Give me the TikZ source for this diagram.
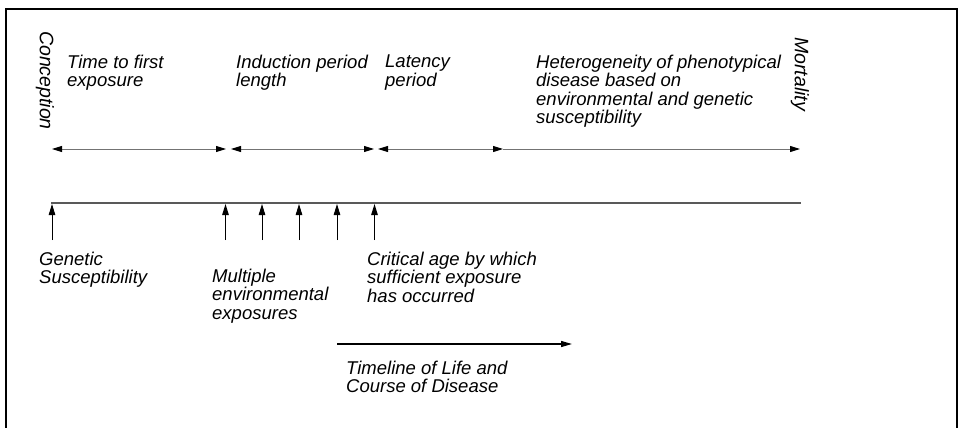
\documentclass[tikz,border=0pt]{standalone}
\usepackage{fontspec}
\setmainfont{Liberation Sans}
\usetikzlibrary{arrows.meta}
\begin{document}
\begin{tikzpicture}[x=1pt,y=-1pt,
  lbl/.style={anchor=north west,inner sep=0pt,align=left,font=\fontsize{18.5}{18.2}\selectfont\itshape},
  vlbl/.style={anchor=west,inner sep=0pt,rotate=-90,font=\fontsize{19.5}{18}\selectfont\itshape},
  dimline/.style={draw=black!55,line width=0.9pt},
  dimarr/.style={dimline,{Triangle[length=10pt,width=6pt,color=black]}-{Triangle[length=10pt,width=6pt,color=black]}},
  dimright/.style={dimline,-{Triangle[length=10pt,width=6pt,color=black]}},
  uparr/.style={draw=black,line width=1pt,-{Triangle[length=11pt,width=6.5pt]}},
  tline/.style={draw=black!65,line width=2pt},
  frame/.style={draw=black,line width=2.2pt}]
\useasboundingbox (0,0) rectangle (962,428);
\draw[frame] (6,430) -- (6,9) -- (957,9) -- (957,430);

% vertical labels
\node[vlbl] (conc) at (45,31) {Conception};
\node[vlbl] (mort) at (800,37) {Mortality};

% top labels
\node[lbl] (t1) at (67,55) {Time to first\\exposure};
\node[lbl] (t2) at (236,55) {Induction period\\length};
\node[lbl] (t3) at (385,55) {Latency\\period};
\node[lbl] (t4) at (536,55) {Heterogeneity of phenotypical\\disease based on\\environmental and genetic\\susceptibility};

% dimension arrows
\coordinate (d0) at (52,149);
\coordinate (d1a) at (226,149);
\coordinate (d1b) at (231,149);
\coordinate (d2a) at (374,149);
\coordinate (d2b) at (378,149);
\coordinate (d3) at (503,149);
\coordinate (d4) at (800,149);
\draw[dimarr] (d0) -- (d1a);
\draw[dimarr] (d1b) -- (d2a);
\draw[dimarr] (d2b) -- (d3);
\draw[dimright] (d3) -- (d4);

% timeline
\coordinate (tl0) at (51,203);
\coordinate (tl1) at (801,203);
\draw[tline] (tl0) -- (tl1);

% up arrows
\foreach \n/\x in {a/52,b/225.5,c/262,d/299,e/337,f/374.5}{
  \coordinate (u\n0) at (\x,240);
  \coordinate (u\n1) at (\x,204);
  \draw[uparr] (u\n0) -- (u\n1);
}

% bottom labels
\node[lbl] (g) at (39,252) {Genetic\\Susceptibility};
\node[lbl] (m) at (212,269) {Multiple\\environmental\\exposures};
\node[lbl] (c) at (367,252) {Critical age by which\\sufficient exposure\\has occurred};

% life timeline arrow
\coordinate (la0) at (337,344);
\coordinate (la1) at (572,344);
\draw[draw=black,line width=1.3pt,-{Triangle[length=11pt,width=6pt]}] (la0) -- (la1);
\node[lbl] (tlabel) at (346,361) {Timeline of Life and\\Course of Disease};
\end{tikzpicture}
\end{document}
